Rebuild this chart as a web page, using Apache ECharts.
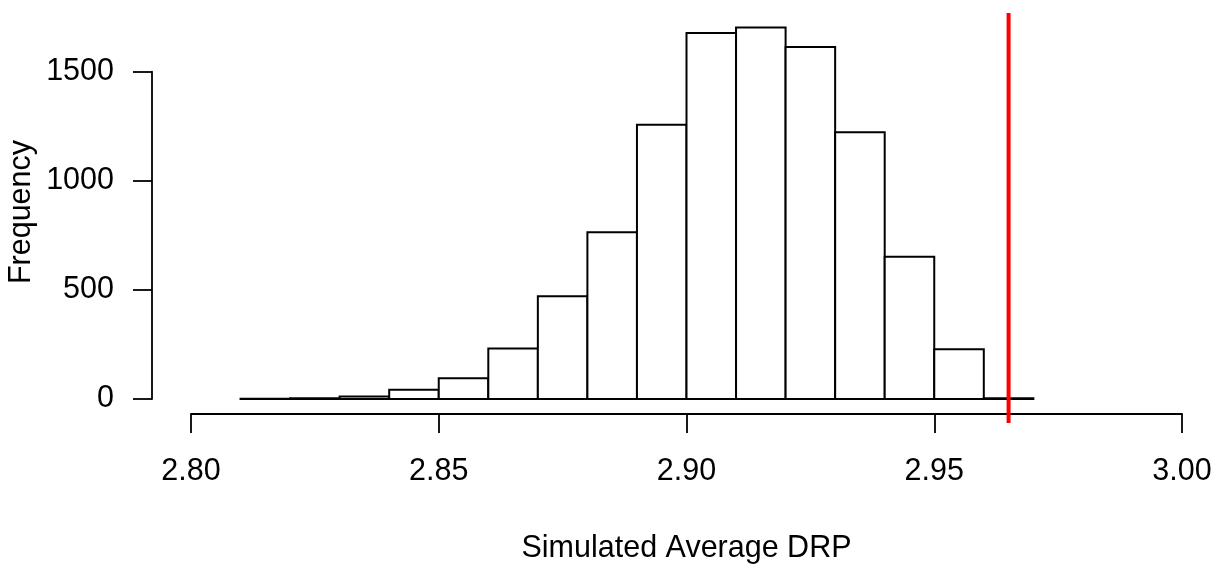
<!DOCTYPE html>
<html>
<head>
<meta charset="utf-8">
<script src="https://cdn.jsdelivr.net/npm/echarts@6/dist/echarts.min.js"></script>
<style>
  html, body { margin: 0; padding: 0; background: #ffffff; }
  #chart { width: 1220px; height: 564px; }
</style>
</head>
<body>
<div id="chart"></div>
<script>
// Histogram of simulated average DRP values
const binEdges = [2.81, 2.82, 2.83, 2.84, 2.85, 2.86, 2.87, 2.88, 2.89,
                  2.90, 2.91, 2.92, 2.93, 2.94, 2.95, 2.96, 2.97];
const frequencies = [1, 4, 12, 42, 95, 232, 471, 764, 1257,
                     1677, 1703, 1613, 1222, 652, 228, 3];
const observedValue = 2.965;
const xTickValues = [2.80, 2.85, 2.90, 2.95, 3.00];
const xTickLabels = ['2.80', '2.85', '2.90', '2.95', '3.00'];
const yTickValues = [0, 500, 1000, 1500];
const yTickLabels = ['0', '500', '1000', '1500'];
const xTitle = 'Simulated Average DRP';
const yTitle = 'Frequency';

const FONT = "'Liberation Sans', Arial, Helvetica, sans-serif";
const FS = 30.5;
const INK = '#000000';

// vertical extent of the plotting region, in frequency units
const Y_LOW = -110;
const Y_HIGH = 1769;

const bins = frequencies.map((f, i) => [binEdges[i], binEdges[i + 1], f]);

function labelFor(values, labels) {
  return function (v) {
    let best = 0;
    for (let i = 1; i < values.length; i++) {
      if (Math.abs(values[i] - v) < Math.abs(values[best] - v)) best = i;
    }
    return labels[best];
  };
}

const chart = echarts.init(document.getElementById('chart'), null, { renderer: 'canvas' });

const option = {
  animation: false,
  backgroundColor: '#ffffff',
  textStyle: { fontFamily: FONT },
  grid: [
    // plotting region for the bars and the reference line
    { left: 191, right: 38, top: 13, bottom: 141, containLabel: false, outerBoundsMode: 'none' },
    // region spanned by the drawn axes
    { left: 191, right: 38, top: 71.7, bottom: 165, containLabel: false, outerBoundsMode: 'none' }
  ],
  xAxis: [
    { gridIndex: 0, type: 'value', min: 2.8, max: 3.0, show: false },
    {
      gridIndex: 1, type: 'value', min: 2.8, max: 3.0, interval: 0.05,
      position: 'bottom', offset: 15,
      axisLine: { show: true, onZero: false, lineStyle: { color: INK, width: 1.8 } },
      axisTick: { show: true, length: 19, lineStyle: { color: INK, width: 1.8 } },
      axisLabel: {
        margin: 42.5, color: INK, fontSize: FS, fontFamily: FONT, lineHeight: 31,
        formatter: labelFor(xTickValues, xTickLabels)
      },
      splitLine: { show: false },
      name: xTitle, nameLocation: 'middle', nameGap: 119.5,
      nameTextStyle: { color: INK, fontSize: FS, fontFamily: FONT, lineHeight: 31 }
    }
  ],
  yAxis: [
    { gridIndex: 0, type: 'value', min: Y_LOW, max: Y_HIGH, show: false },
    {
      gridIndex: 1, type: 'value', min: 0, max: 1500, interval: 500,
      position: 'left', offset: 39,
      axisLine: { show: true, onZero: false, lineStyle: { color: INK, width: 1.8 } },
      axisTick: { show: true, length: 19, lineStyle: { color: INK, width: 1.8 } },
      axisLabel: {
        margin: 38, color: INK, fontSize: FS, fontFamily: FONT, lineHeight: 31,
        formatter: labelFor(yTickValues, yTickLabels)
      },
      splitLine: { show: false }
    }
  ],
  graphic: [
    {
      type: 'text', rotation: Math.PI / 2, x: 22, y: 212,
      style: {
        text: yTitle, font: FS + 'px ' + FONT, fill: INK,
        align: 'center', verticalAlign: 'middle'
      }
    }
  ],
  series: [
    {
      type: 'custom',
      xAxisIndex: 0,
      yAxisIndex: 0,
      data: bins,
      renderItem: function (params, api) {
        const p0 = api.coord([api.value(0), 0]);
        const p1 = api.coord([api.value(1), api.value(2)]);
        return {
          type: 'rect',
          shape: { x: p0[0], y: p1[1], width: p1[0] - p0[0], height: p0[1] - p1[1] },
          style: { fill: '#ffffff', stroke: INK, lineWidth: 2 }
        };
      },
      z: 2
    },
    {
      // observed value, drawn across the full plotting region
      type: 'line',
      xAxisIndex: 0,
      yAxisIndex: 0,
      data: [[observedValue, Y_LOW], [observedValue, Y_HIGH]],
      showSymbol: false,
      symbol: 'none',
      silent: true,
      lineStyle: { color: '#ff0000', width: 4 },
      z: 3
    }
  ]
};

chart.setOption(option);
</script>
</body>
</html>
